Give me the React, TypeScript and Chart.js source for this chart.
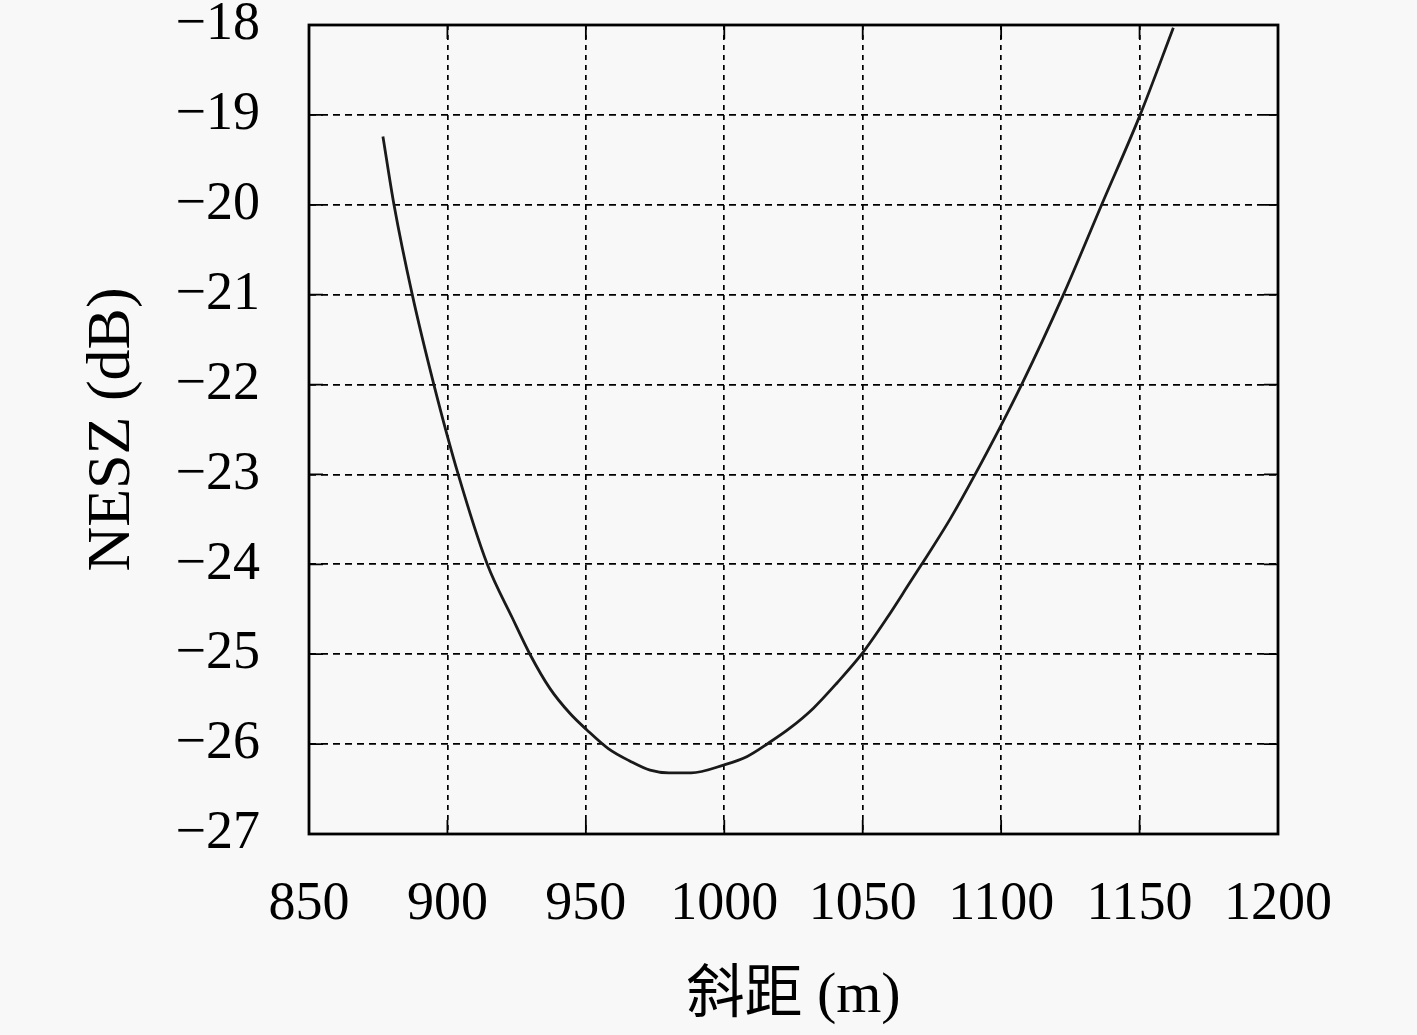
import { useEffect, useRef } from 'react'
import { Chart, registerables } from 'chart.js'

Chart.register(...registerables)

// slant range (m) and NESZ (dB)
const slantRange = [876.7, 880.7, 887.3, 895.1, 903.9, 914.4, 923.5, 929.8, 937.0, 944.3, 950.3, 958.1, 966, 973.2, 980, 988, 1000, 1008.1, 1015.9, 1023.8, 1032.2, 1040.7, 1049.6, 1058.7, 1067.1, 1071.3, 1081.5, 1090.6, 1107.4, 1122.5, 1136.3, 1150.2, 1162.2]
const nesz = [-19.24, -20, -21, -22, -23, -24, -24.6, -25, -25.38, -25.66, -25.84, -26.05, -26.19, -26.29, -26.32, -26.32, -26.23, -26.14, -25.99, -25.82, -25.6, -25.32, -25, -24.6, -24.2, -24, -23.5, -23, -22, -21, -20, -19, -18.03]

const xMin = 850
const xMax = 1200
const xStep = 50
const yMin = -27
const yMax = -18
const yStep = 1

const xTitle = '斜距 (m)'
const yTitle = 'NESZ (dB)'

const FONT = '"Liberation Serif", "Noto Sans CJK SC", serif'

// box round the plot plus the little solid ticks on the inside
const framePlugin = {
  id: 'frame',
  afterDraw(chart) {
    const { ctx, chartArea, scales } = chart
    const { left, right, top, bottom } = chartArea
    ctx.save()
    ctx.strokeStyle = '#000'
    ctx.lineWidth = 1.8
    ctx.setLineDash([])
    const len = 14
    scales.x.ticks.forEach((t) => {
      const px = scales.x.getPixelForValue(t.value)
      ctx.beginPath()
      ctx.moveTo(px, bottom)
      ctx.lineTo(px, bottom - len)
      ctx.moveTo(px, top)
      ctx.lineTo(px, top + len)
      ctx.stroke()
    })
    scales.y.ticks.forEach((t) => {
      const py = scales.y.getPixelForValue(t.value)
      ctx.beginPath()
      ctx.moveTo(left, py)
      ctx.lineTo(left + len, py)
      ctx.moveTo(right, py)
      ctx.lineTo(right - len, py)
      ctx.stroke()
    })
    ctx.lineWidth = 2.8
    ctx.strokeRect(left, top, right - left, bottom - top)
    ctx.restore()
  }
}

const App = () => {
  const chartRef = useRef(null)
  const chartInstance = useRef(null)

  useEffect(() => {
    if (chartRef && chartRef.current) {
      const ctx = chartRef.current.getContext('2d')

      if (chartInstance.current) {
        chartInstance.current.destroy()
      }

      chartInstance.current = new Chart(ctx, {
        type: 'line',
        data: {
          datasets: [
            {
              label: 'NESZ',
              data: slantRange.map((x, i) => ({ x, y: nesz[i] })),
              borderColor: '#1a1a1a',
              borderWidth: 2.8,
              pointRadius: 0,
              fill: false,
              cubicInterpolationMode: 'monotone'
            }
          ]
        },
        options: {
          animation: false,
          responsive: false,
          layout: {
            padding: { top: 25, right: 139, bottom: 0, left: 0 }
          },
          plugins: {
            legend: { display: false },
            tooltip: { enabled: false }
          },
          scales: {
            x: {
              type: 'linear',
              min: xMin,
              max: xMax,
              afterFit: (scale) => {
                scale.height = 201
                scale.paddingLeft = 0
                scale.paddingRight = 0
              },
              ticks: {
                stepSize: xStep,
                color: '#000',
                padding: 38,
                maxRotation: 0,
                font: { family: FONT, size: 54 },
                callback: (v) => String(v)
              },
              grid: {
                color: '#000',
                lineWidth: 1.7,
                drawTicks: false
              },
              border: { display: false, dash: [5, 5] },
              title: {
                display: true,
                text: xTitle,
                color: '#000',
                padding: { top: 0, bottom: 3 },
                font: { family: FONT, size: 58 }
              }
            },
            y: {
              type: 'linear',
              min: yMin,
              max: yMax,
              afterFit: (scale) => {
                scale.width = 309
                scale.paddingTop = 0
                scale.paddingBottom = 0
              },
              ticks: {
                stepSize: yStep,
                color: '#000',
                padding: 49,
                font: { family: FONT, size: 54 },
                callback: (v) => String(v).replace('-', '\u2212')
              },
              grid: {
                color: '#000',
                lineWidth: 1.7,
                drawTicks: false
              },
              border: { display: false, dash: [7, 5] },
              title: {
                display: true,
                text: yTitle,
                color: '#000',
                padding: { top: 76, bottom: 0 },
                font: { family: FONT, size: 62 }
              }
            }
          }
        },
        plugins: [framePlugin]
      })
    }

    return () => {
      if (chartInstance.current) {
        chartInstance.current.destroy()
      }
    }
  }, [])

  return (
    <div style={{ position: 'fixed', left: 0, top: 0, width: 1417, height: 1035, background: '#f8f8f8' }}>
      <canvas ref={chartRef} width={1417} height={1035} style={{ width: 1417, height: 1035 }} />
    </div>
  )
}

export default App
